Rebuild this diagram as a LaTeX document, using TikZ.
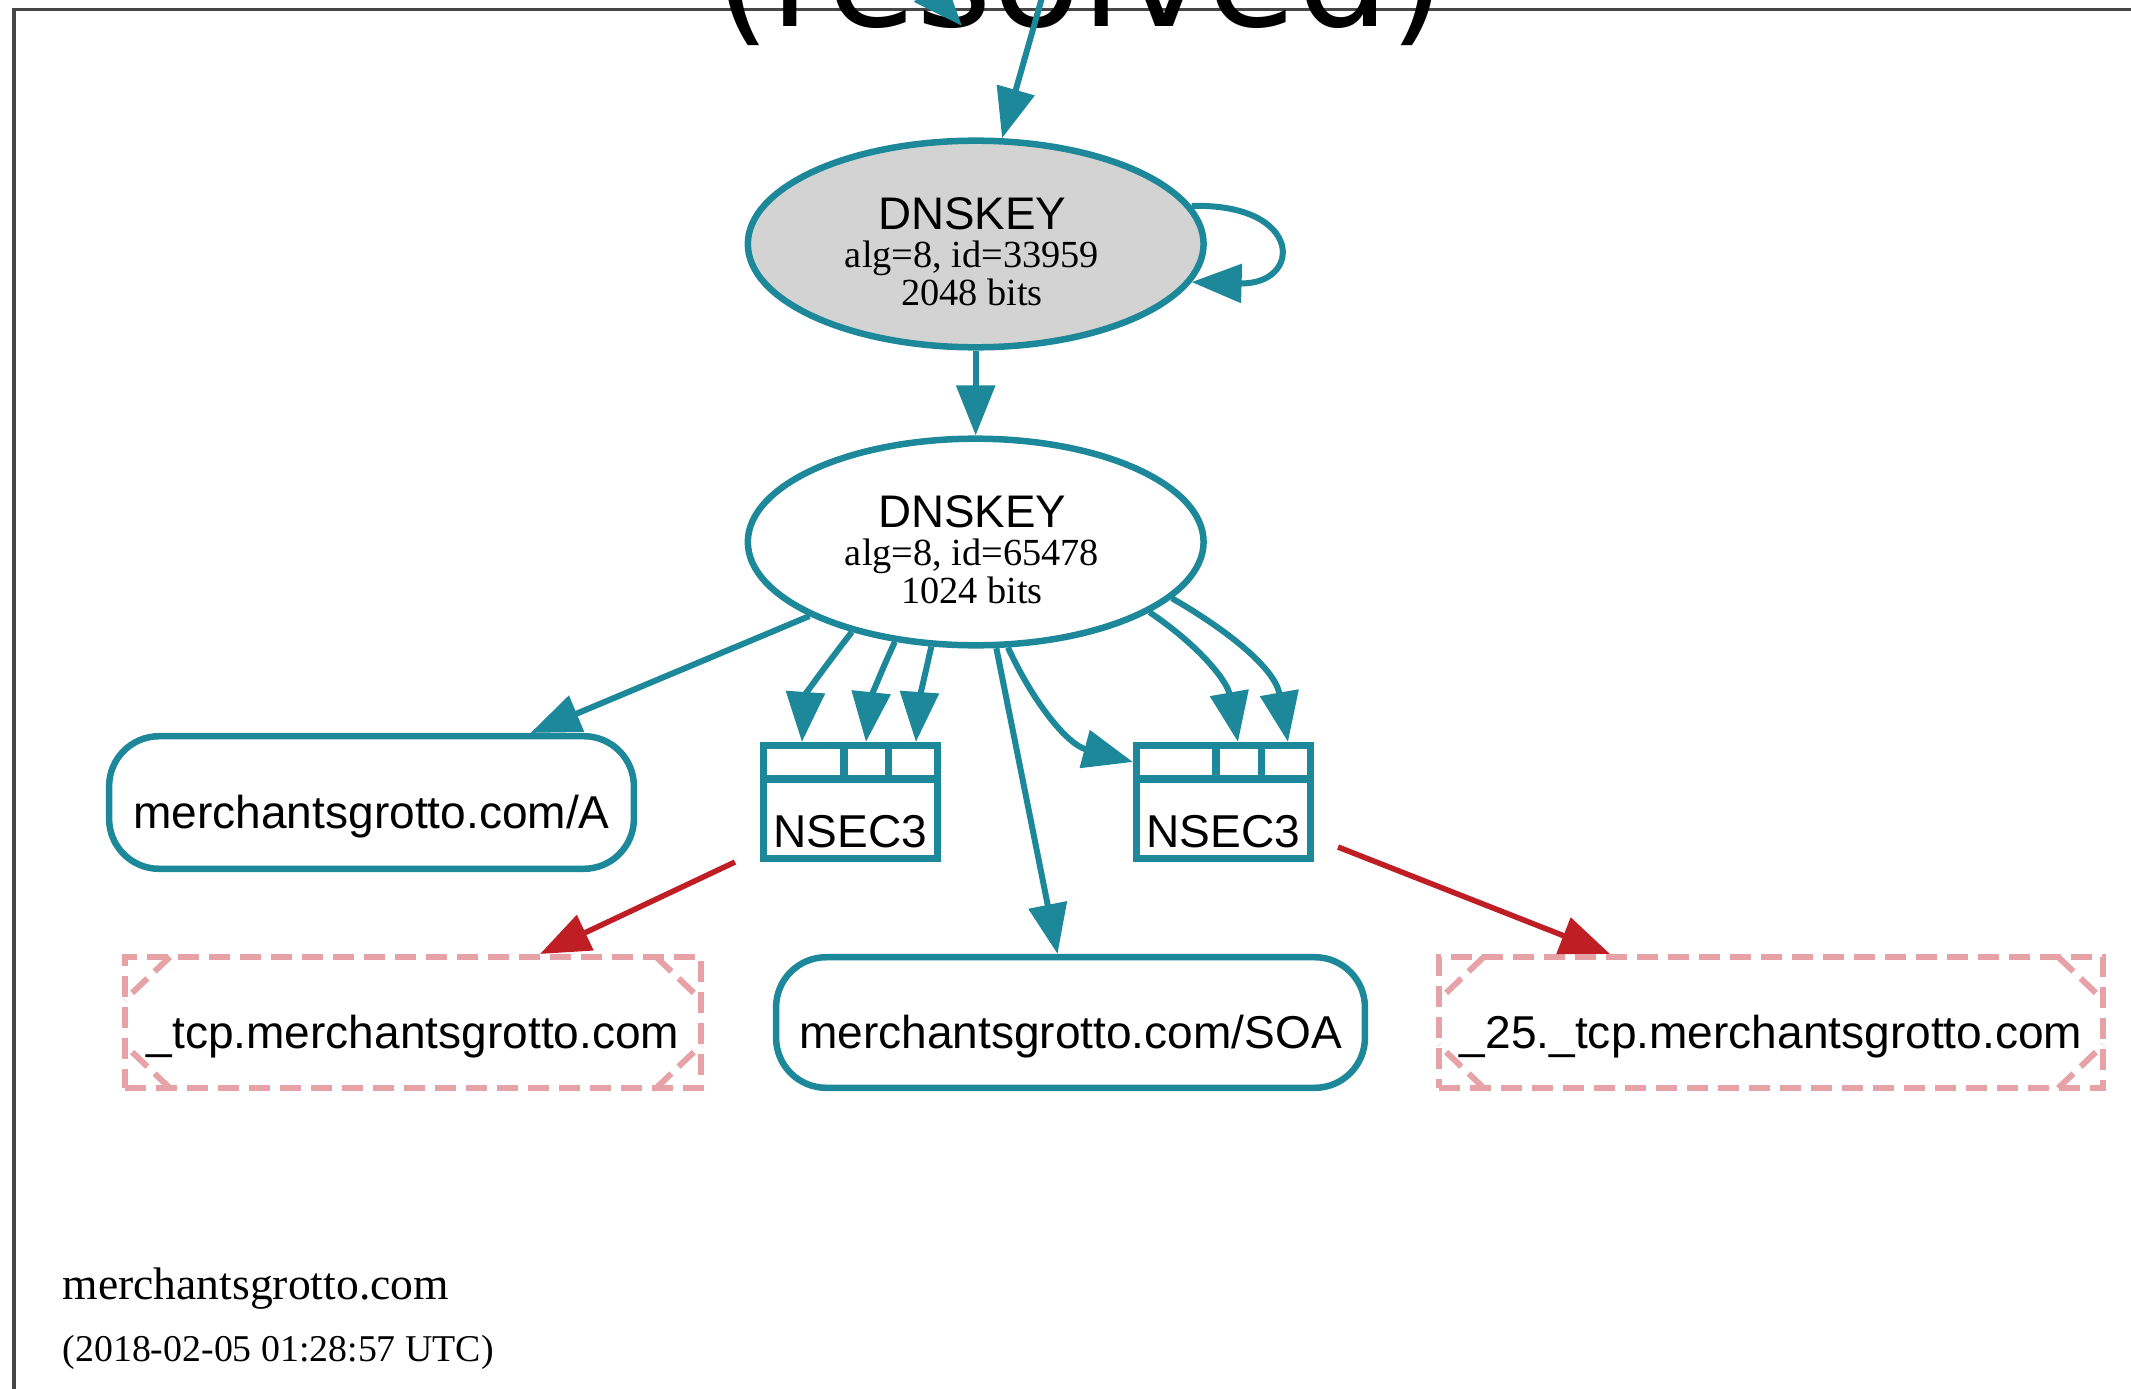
\documentclass[tikz,border=0pt]{standalone}
\usepackage{fontspec}
\setmainfont{Liberation Serif}
\setsansfont{Liberation Sans}
\newfontfamily\djvfont{DejaVu Sans}
\usetikzlibrary{arrows.meta,calc,shapes.geometric}

\definecolor{dnsteal}{RGB}{29,136,153}
\definecolor{dnsred}{RGB}{190,30,36}
\definecolor{dnspink}{RGB}{230,162,166}
\definecolor{framegray}{RGB}{70,70,70}
\definecolor{keyfill}{RGB}{211,211,211}

\begin{document}
\begin{tikzpicture}[x=0.01cm, y=-0.01cm,
  labelfont/.style={font=\sffamily\fontsize{13.1}{15}\selectfont},
  keyline/.style={font=\fontsize{10.9}{12}\selectfont, anchor=base, inner sep=0},
  keytitle/.style={font=\sffamily\fontsize{13}{15}\selectfont, anchor=base, inner sep=0},
  dnskey/.style={ellipse, draw=dnsteal, line width=0.065cm, minimum width=4.555cm,
    minimum height=2.065cm, inner sep=0},
  rrset/.style={rectangle, rounded corners=0.5cm, draw=dnsteal, line width=0.065cm,
    inner sep=0, labelfont, text height=0.58cm, text depth=0.07cm},
  nsecbox/.style={rectangle, draw=dnsteal, line width=0.075cm, minimum width=1.735cm,
    minimum height=1.125cm, inner sep=0, labelfont, text height=0.95cm, text depth=0.05cm},
  nxdomain/.style={rectangle, draw=dnspink, dash pattern=on 0.21cm off 0.1cm,
    line width=0.06cm, inner sep=0, labelfont, text height=0.58cm, text depth=0.07cm},
  nxcorner/.style={draw=dnspink, dash pattern=on 0.21cm off 0.1cm, line width=0.06cm},
  nsecrule/.style={draw=dnsteal, line width=0.075cm},
  signedge/.style={draw=dnsteal, line width=0.06cm, -{Triangle[length=0.5cm,width=0.38cm]}},
  denyedge/.style={draw=dnsred, line width=0.055cm, -{Triangle[length=0.5cm,width=0.38cm]}},
]
\useasboundingbox (0,0) rectangle (2131,1388);
\clip (0,0) rectangle (2131,1388);

% surrounding frame
\draw[framegray, line width=0.03cm] (2200,10) -- (14,10) -- (14,1450);

% parent zone label
\node[anchor=base, inner sep=0, font=\djvfont\fontsize{41.3}{48}\selectfont] (resolved) at (1080,27) {(resolved)};

% DNSKEY nodes
\node[dnskey, fill=keyfill] (e1) at (975.7,244) {};
\node[dnskey, fill=white] (e2) at (975.7,542) {};
\node[keytitle] (e1t) at (972,229.5) {DNSKEY};
\node[keyline] (e1id) at (972,267) {alg=8, id=33959};
\node[keyline] (e1sz) at (972,305) {2048 bits};
\node[keytitle] (e2t) at (972,527.5) {DNSKEY};
\node[keyline] (e2id) at (972,565) {alg=8, id=65478};
\node[keyline] (e2sz) at (972,603) {1024 bits};

% RRsets
\node[rrset, minimum width=5.245cm, minimum height=1.325cm] (na) at (371.5,802.5) {merchantsgrotto.com/A};
\node[rrset, minimum width=5.885cm, minimum height=1.305cm] (soa) at (1070.5,1022.5) {merchantsgrotto.com/SOA};

% NSEC3 proofs
\node[nsecbox] (nl) at (850.5,802) {NSEC3};
\node[nsecbox] (nr) at (1223.5,802) {NSEC3};
\foreach \n/\a/\b in {nl/84/128.5, nr/83/128.5} {
  \draw[nsecrule] ($(\n.north west)+(0,37)$) -- ($(\n.north east)+(0,37)$);
  \draw[nsecrule] ($(\n.north west)+(\a,0)$) -- ($(\n.north west)+(\a,37)$);
  \draw[nsecrule] ($(\n.north west)+(\b,0)$) -- ($(\n.north west)+(\b,37)$);
}

% non-existent names
\node[nxdomain, minimum width=5.76cm, minimum height=1.31cm] (tcp) at (413,1022.5) {\_tcp.merchantsgrotto.com};
\node[nxdomain, minimum width=6.64cm, minimum height=1.31cm] (t25) at (1771,1022.5) {\_25.\_tcp.merchantsgrotto.com};
\foreach \n in {tcp,t25} {
  \draw[nxcorner] ($(\n.north west)+(48,3)$) -- ($(\n.north west)+(3,46)$);
  \draw[nxcorner] ($(\n.north east)+(-48,3)$) -- ($(\n.north east)+(-3,46)$);
  \draw[nxcorner] ($(\n.south west)+(48,-3)$) -- ($(\n.south west)+(3,-46)$);
  \draw[nxcorner] ($(\n.south east)+(-48,-3)$) -- ($(\n.south east)+(-3,-46)$);
}

% edges arriving from the parent zone
\coordinate (topsrc) at (862,-86);
\coordinate (toptip) at (962,26);
\coordinate (topin) at (1047,-20);
\draw[signedge] (topsrc) -- (toptip);
\draw[signedge] (topin) -- (e1.76);

% signatures
\draw[signedge] (e1.south) -- (e2.north);
\draw[signedge] (e1.10) .. controls +(113,-3) and +(111,3) .. (e1.-10);
\draw[signedge] (e2.204) -- ($(na.north)+(159,0)$);
\draw[signedge] (e2.216) to[out=232,in=86] ($(nl.north west)+(42,0)$);
\draw[signedge] (e2.231) to[out=245,in=84] ($(nl.north west)+(106,0)$);
\draw[signedge] (e2.247) to[out=257,in=86] ($(nl.north west)+(156,0)$);
\draw[signedge] (e2.281) -- ($(soa.north)+(-13,0)$);
\draw[signedge] (e2.287) to[out=-65,in=165] ($(nr.north west)+(0,20)$);
\draw[signedge] (e2.338) to[out=-34,in=100] ($(nr.north west)+(105,0)$);
\draw[signedge] (e2.344) to[out=-30,in=100] ($(nr.north west)+(155,0)$);

% denial of existence
\draw[denyedge] ($(nl.south west)+(-25,0)$) -- ($(tcp.north)+(127,0)$);
\draw[denyedge] ($(nr.south east)+(24,-15)$) -- ($(t25.north)+(-161,0)$);

% zone caption
\node[anchor=base west, inner sep=0, font=\fontsize{12.97}{15}\selectfont] (zname) at (62,1299) {merchantsgrotto.com};
\node[anchor=base west, inner sep=0, font=\fontsize{10.76}{13}\selectfont] (zdate) at (62,1361) {(2018-02-05 01:28:57 UTC)};
\end{tikzpicture}
\end{document}
